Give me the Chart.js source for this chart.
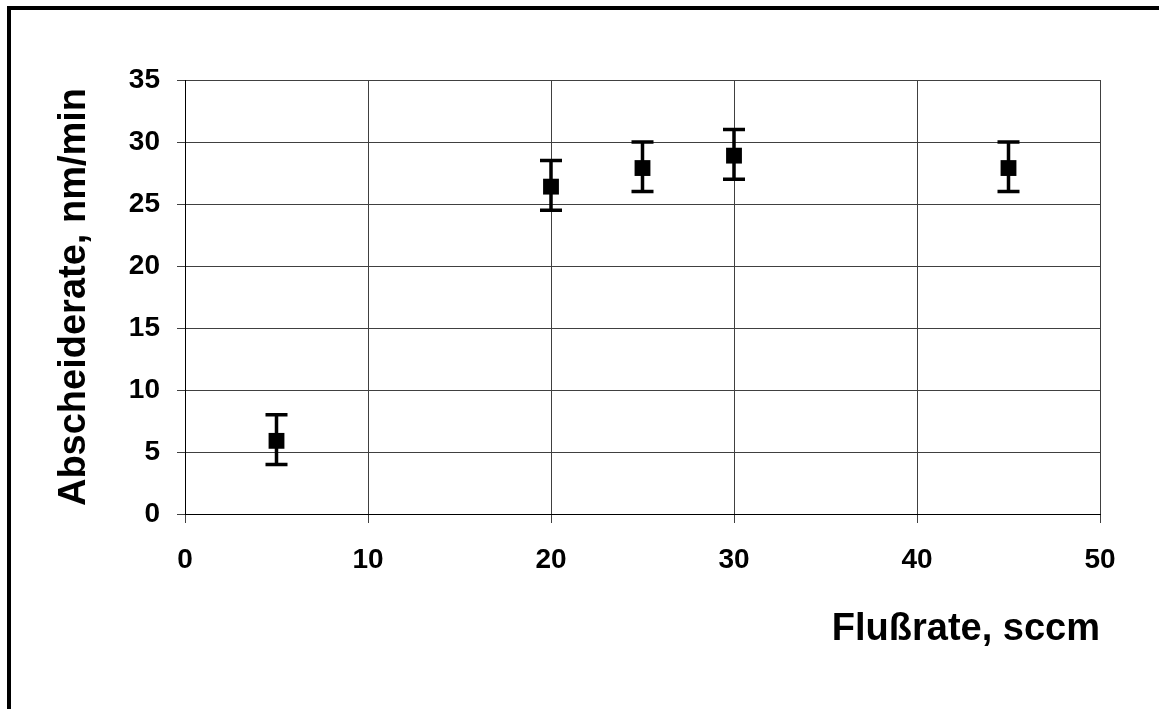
<!DOCTYPE html>
<html>
<head>
<meta charset="utf-8">
<script src="https://cdn.jsdelivr.net/npm/chart.js@4/dist/chart.umd.min.js"></script>
<style>
  html, body { margin: 0; padding: 0; background: #fff; }
  canvas { display: block; }
</style>
</head>
<body>
<canvas id="chart" width="1159" height="709"></canvas>
<script>
// Flow rate (sccm) and measured deposition rate (nm/min)
const flowRate = [5, 20, 25, 30, 45];
const depositionRate = [5.9, 26.4, 27.9, 28.9, 27.9];
// Error bar bounds for each measurement
const rateLower = [4, 24.5, 26, 27, 26];
const rateUpper = [8, 28.5, 30, 31, 30];

const xTicks = [0, 10, 20, 30, 40, 50];
const yTicks = [0, 5, 10, 15, 20, 25, 30, 35];

const FONT = '"Liberation Sans", Arial, Helvetica, sans-serif';

// White page background and the heavy frame along the top and left edges
const framePlugin = {
  id: 'frame',
  beforeDraw(chart) {
    const ctx = chart.ctx;
    ctx.save();
    ctx.fillStyle = '#fff';
    ctx.fillRect(0, 0, chart.width, chart.height);
    ctx.fillStyle = '#000';
    ctx.fillRect(7, 6, 4, chart.height - 6);
    ctx.fillRect(7, 6, chart.width - 7, 4);
    ctx.restore();
  }
};

// Vertical error bars with end caps
const errorBarPlugin = {
  id: 'errorBars',
  afterDatasetsDraw(chart) {
    const ctx = chart.ctx;
    const xs = chart.scales.x, ys = chart.scales.y;
    ctx.save();
    ctx.strokeStyle = '#000';
    ctx.lineWidth = 3.5;
    ctx.lineCap = 'butt';
    flowRate.forEach((fx, i) => {
      const px = xs.getPixelForValue(fx);
      const pLo = ys.getPixelForValue(rateLower[i]);
      const pHi = ys.getPixelForValue(rateUpper[i]);
      ctx.beginPath();
      ctx.moveTo(px, pLo);
      ctx.lineTo(px, pHi);
      ctx.moveTo(px - 11, pLo);
      ctx.lineTo(px + 11, pLo);
      ctx.moveTo(px - 11, pHi);
      ctx.lineTo(px + 11, pHi);
      ctx.stroke();
    });
    ctx.restore();
  }
};

new Chart(document.getElementById('chart'), {
  type: 'scatter',
  data: {
    datasets: [{
      data: flowRate.map((x, i) => ({ x, y: depositionRate[i] })),
      pointStyle: 'rect',
      pointRadius: 11.2,
      pointHoverRadius: 11.2,
      backgroundColor: '#000',
      borderColor: '#000',
      borderWidth: 0,
      showLine: false
    }]
  },
  options: {
    responsive: false,
    animation: false,
    events: [],
    layout: { padding: { top: 80, right: 59, left: 0, bottom: 0 } },
    plugins: {
      legend: { display: false },
      tooltip: { enabled: false }
    },
    scales: {
      x: {
        type: 'linear',
        min: 0,
        max: 50,
        afterBuildTicks(scale) { scale.ticks = xTicks.map(v => ({ value: v })); },
        afterFit(scale) { scale.height = 195; },
        grid: { color: '#404040', lineWidth: 1, tickLength: 9, drawTicks: true },
        border: { color: '#000', width: 1 },
        ticks: {
          color: '#000',
          padding: 20,
          font: { family: FONT, size: 28, weight: 'bold' }
        },
        title: {
          display: true,
          text: 'Flußrate, sccm',
          align: 'end',
          color: '#000',
          padding: { top: 0, bottom: 57 },
          font: { family: FONT, size: 38, weight: 'bold' }
        }
      },
      y: {
        type: 'linear',
        min: 0,
        max: 35,
        afterBuildTicks(scale) { scale.ticks = yTicks.map(v => ({ value: v })); },
        afterFit(scale) { scale.width = 185; },
        grid: { color: '#404040', lineWidth: 1, tickLength: 8, drawTicks: true },
        border: { color: '#000', width: 1 },
        ticks: {
          color: '#000',
          padding: 17,
          font: { family: FONT, size: 28, weight: 'bold' }
        },
        title: {
          display: true,
          text: 'Abscheiderate, nm/min',
          color: '#000',
          padding: { top: 52, bottom: 0 },
          font: { family: FONT, size: 38, weight: 'bold' }
        }
      }
    }
  },
  plugins: [framePlugin, errorBarPlugin]
});
</script>
</body>
</html>
